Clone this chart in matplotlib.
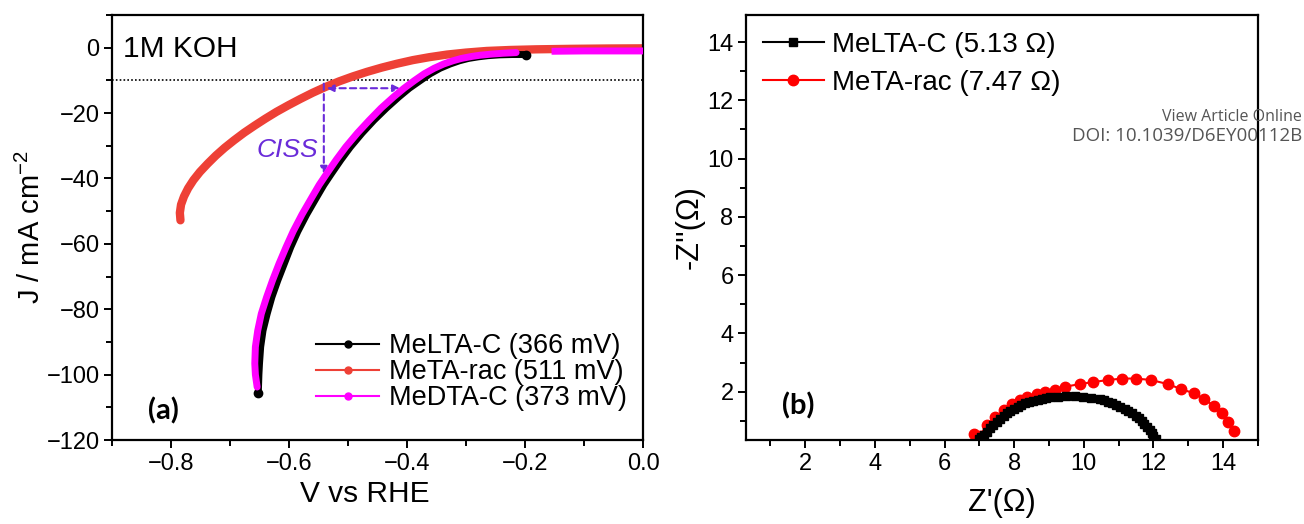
import matplotlib
matplotlib.use("Agg")
import matplotlib.pyplot as plt
from matplotlib.lines import Line2D
from matplotlib.ticker import MultipleLocator

plt.rcParams['font.family'] = ['Liberation Sans', 'DejaVu Sans']
plt.rcParams['mathtext.fontset'] = 'custom'
plt.rcParams['mathtext.rm'] = 'Liberation Sans'

# ---- panel (a): LSV curves, 1M KOH ----
v_rac = [-0.784, -0.785, -0.783, -0.778, -0.771, -0.762, -0.751, -0.738, -0.724, -0.709,
         -0.693, -0.676, -0.658, -0.640, -0.621, -0.601, -0.581, -0.560, -0.538, -0.515,
         -0.492, -0.468, -0.443, -0.417, -0.390, -0.362, -0.332, -0.300, -0.265, -0.225,
         -0.180, -0.120, -0.060, 0.0]
j_rac = [-52.8, -50.5, -48.0, -45.5, -43.0, -40.5, -38.0, -35.5, -33.0, -30.6,
         -28.3, -26.0, -23.8, -21.7, -19.6, -17.6, -15.7, -13.8, -12.0, -10.3,
         -8.8, -7.4, -6.1, -4.9, -3.8, -2.9, -2.1, -1.5, -1.0, -0.7,
         -0.5, -0.35, -0.25, -0.2]

v_ltac = [-0.652, -0.651, -0.650, -0.648, -0.644, -0.637, -0.629, -0.619, -0.608, -0.597,
          -0.585, -0.570, -0.553, -0.541, -0.528, -0.512, -0.496, -0.476, -0.456, -0.435,
          -0.414, -0.396, -0.377, -0.361, -0.344, -0.327, -0.311, -0.296, -0.279, -0.263,
          -0.243, -0.222, -0.199]
j_ltac = [-105.5, -100.0, -96.6, -91.5, -86.5, -81.4, -76.3, -71.2, -66.1, -61.0,
          -56.2, -51.0, -45.7, -42.0, -38.5, -34.3, -30.4, -26.1, -22.2, -18.5,
          -15.1, -12.4, -10.0, -8.0, -6.3, -5.0, -4.0, -3.3, -2.8, -2.45,
          -2.2, -2.1, -2.1]

v_dtac = [-0.654, -0.657, -0.658, -0.657, -0.653, -0.647, -0.638, -0.628, -0.617, -0.605,
          -0.593, -0.578, -0.561, -0.549, -0.536, -0.520, -0.504, -0.484, -0.464, -0.444,
          -0.423, -0.405, -0.387, -0.371, -0.354, -0.338, -0.322, -0.308, -0.291, -0.276,
          -0.256, -0.237, -0.215]
j_dtac = [-103.8, -100.0, -96.6, -91.5, -86.5, -81.4, -76.3, -71.2, -66.1, -61.0,
          -56.2, -51.0, -45.7, -42.0, -38.5, -34.3, -30.4, -26.1, -22.2, -18.5,
          -15.1, -12.4, -10.0, -8.0, -6.3, -5.0, -4.0, -3.3, -2.7, -2.3,
          -1.95, -1.7, -1.5]
v_dtac_tail = [-0.155, -0.100, -0.050, 0.0]
j_dtac_tail = [-1.1, -1.0, -1.0, -1.0]

labels_a = ['MeLTA-C (366 mV)', 'MeTA-rac (511 mV)', 'MeDTA-C (373 mV)']
j_ref = -10
ciss_h = ([-0.536, -0.412], [-12.4, -12.4])
ciss_v = ([-0.541, -0.541], [-11.0, -38.5])

# ---- panel (b): Nyquist plots ----
zre_ltac = [6.98, 7.05, 7.12, 7.21, 7.31, 7.40, 7.50, 7.60, 7.70, 7.79, 7.89, 8.00, 8.10,
            8.21, 8.31, 8.43, 8.55, 8.67, 8.79, 8.91, 9.03, 9.27, 9.50, 9.74, 9.98, 10.22,
            10.46, 10.58, 10.70, 10.82, 10.93, 11.05, 11.17, 11.28, 11.39, 11.49, 11.58,
            11.66, 11.74, 11.82, 11.89, 11.95, 12.00, 12.06]
zim_ltac = [0.36, 0.43, 0.51, 0.62, 0.74, 0.86, 0.97, 1.07, 1.16, 1.26, 1.35, 1.42, 1.49,
            1.55, 1.60, 1.65, 1.69, 1.73, 1.76, 1.79, 1.81, 1.83, 1.85, 1.85, 1.83, 1.79,
            1.74, 1.70, 1.65, 1.60, 1.54, 1.48, 1.41, 1.34, 1.26, 1.17, 1.08, 0.99,
            0.89, 0.79, 0.68, 0.58, 0.48, 0.36]

zre_rac = [6.84, 7.01, 7.22, 7.46, 7.70, 7.93, 8.17, 8.38, 8.65, 8.89, 9.17, 9.46, 9.89,
           10.27, 10.70, 11.10, 11.50, 11.93, 12.41, 12.79, 13.17, 13.46, 13.74, 13.96, 14.15, 14.31]
zim_rac = [0.55, 0.48, 0.86, 1.12, 1.37, 1.58, 1.71, 1.81, 1.91, 1.98, 2.06, 2.17, 2.26,
           2.33, 2.40, 2.45, 2.45, 2.40, 2.26, 2.09, 1.94, 1.74, 1.51, 1.26, 0.97, 0.65]

labels_b = ['MeLTA-C (5.13 \u03a9)', 'MeTA-rac (7.47 \u03a9)']

c_red = '#EE4036'
c_mag = '#FF00FF'
c_purple = '#6A2BD9'


def style_axes(ax):
    for s in ax.spines.values():
        s.set_linewidth(1.6)
    ax.tick_params(which='both', direction='out', top=False, right=False,
                   width=1.4, labelsize=17, pad=3)
    ax.tick_params(which='major', length=6)
    ax.tick_params(which='minor', length=4)


fig = plt.figure(figsize=(13.04, 5.24), dpi=100)
ax1 = fig.add_axes([0.0859, 0.1603, 0.4072, 0.8111])
ax2 = fig.add_axes([0.5721, 0.1603, 0.3926, 0.8111])

# panel a
ax1.axhline(j_ref, color='k', ls=(0, (1, 1.3)), lw=1.2, zorder=1)
ax1.plot(v_rac, j_rac, color=c_red, lw=6, solid_capstyle='round',
         solid_joinstyle='round', zorder=2)
ax1.plot(v_ltac, j_ltac, color='k', lw=5, solid_capstyle='round',
         solid_joinstyle='round', zorder=3)
ax1.plot([v_ltac[0], v_ltac[-1]], [j_ltac[0], j_ltac[-1]], 'o', color='k', ms=6, zorder=3)
ax1.plot(v_dtac, j_dtac, color=c_mag, lw=5, solid_capstyle='round',
         solid_joinstyle='round', zorder=4)
ax1.plot(v_dtac_tail, j_dtac_tail, color=c_mag, lw=5, solid_capstyle='butt', zorder=4)

arrow_kw = dict(arrowstyle='<|-|>', color=c_purple, lw=1.5, ls=(0, (3, 2)),
                mutation_scale=10, shrinkA=0, shrinkB=0)
ax1.annotate('', xy=(ciss_h[0][1], ciss_h[1][1]), xytext=(ciss_h[0][0], ciss_h[1][0]),
             arrowprops=arrow_kw)
ax1.annotate('', xy=(ciss_v[0][1], ciss_v[1][1]), xytext=(ciss_v[0][0], ciss_v[1][0]),
             arrowprops=dict(arrow_kw, arrowstyle='-|>'))
ax1.text(-0.551, -31.4, 'CISS', color=c_purple, style='italic', fontsize=19,
         ha='right', va='center')

ax1.set_xlim(-0.9, 0.0)
ax1.set_ylim(-120, 10)
ax1.xaxis.set_minor_locator(MultipleLocator(0.1))
ax1.yaxis.set_major_locator(MultipleLocator(20))
ax1.yaxis.set_minor_locator(MultipleLocator(10))
ax1.set_xticks([-0.8, -0.6, -0.4, -0.2, 0.0])
ax1.set_xticklabels(['\u22120.8', '\u22120.6', '\u22120.4', '\u22120.2', '0.0'])
style_axes(ax1)
ax1.set_xlabel('V vs RHE', fontsize=21.5)
ax1.xaxis.set_label_coords(0.476, -0.095)
ax1.set_ylabel('J / mA cm$^{-2}$', fontsize=21, labelpad=0)
ax1.text(0.021, 0.92, '1M KOH', transform=ax1.transAxes, fontsize=21.5, va='center')
ax1.text(0.096, 0.068, '(a)', transform=ax1.transAxes, fontsize=21, fontweight='bold',
         family='Lato', ha='center', va='center')

handles_a = [Line2D([], [], color=c, lw=1.5, marker='o', ms=5, markerfacecolor=c)
             for c in ['k', c_red, c_mag]]
ax1.legend(handles_a, labels_a, loc='lower right', bbox_to_anchor=(1.0, 0.03),
           frameon=False, fontsize=19.5, handlelength=2.35, handletextpad=0.35,
           labelspacing=0.0, borderaxespad=0.2)

# panel b
ax2.plot(zre_ltac, zim_ltac, color='k', lw=1.5, marker='s', ms=5.5, zorder=3)
ax2.plot(zre_rac, zim_rac, color='#FF0000', lw=1.5, marker='o', ms=7.5, zorder=2)
ax2.set_xlim(0.3, 15)
ax2.set_ylim(0.34, 14.93)
ax2.xaxis.set_major_locator(MultipleLocator(2))
ax2.xaxis.set_minor_locator(MultipleLocator(1))
ax2.yaxis.set_major_locator(MultipleLocator(2))
ax2.yaxis.set_minor_locator(MultipleLocator(1))
style_axes(ax2)
ax2.set_xlabel("Z'(\u03a9)", fontsize=22, labelpad=10)
ax2.set_ylabel("-Z''(\u03a9)", fontsize=22, labelpad=2)
ax2.text(0.1016, 0.08, '(b)', transform=ax2.transAxes, fontsize=21, fontweight='bold',
         family='Lato', ha='center', va='center')
handles_b = [Line2D([], [], color='k', lw=1.5, marker='s', ms=5.5),
             Line2D([], [], color='#FF0000', lw=1.5, marker='o', ms=7.5)]
ax2.legend(handles_b, labels_b, loc='upper left', bbox_to_anchor=(0.0, 1.0),
           frameon=False, fontsize=20, handlelength=2.2, handletextpad=0.3,
           labelspacing=0.45, borderaxespad=0.2)

fig.text(0.9985, 0.777, 'View Article Online', ha='right', va='center', fontsize=11.5,
         color='#555555', family='Open Sans')
fig.text(0.9985, 0.740, 'DOI: 10.1039/D6EY00112B', ha='right', va='center', fontsize=13.5,
         color='#555555', family='Open Sans')

fig.savefig('out.png', dpi=100)
